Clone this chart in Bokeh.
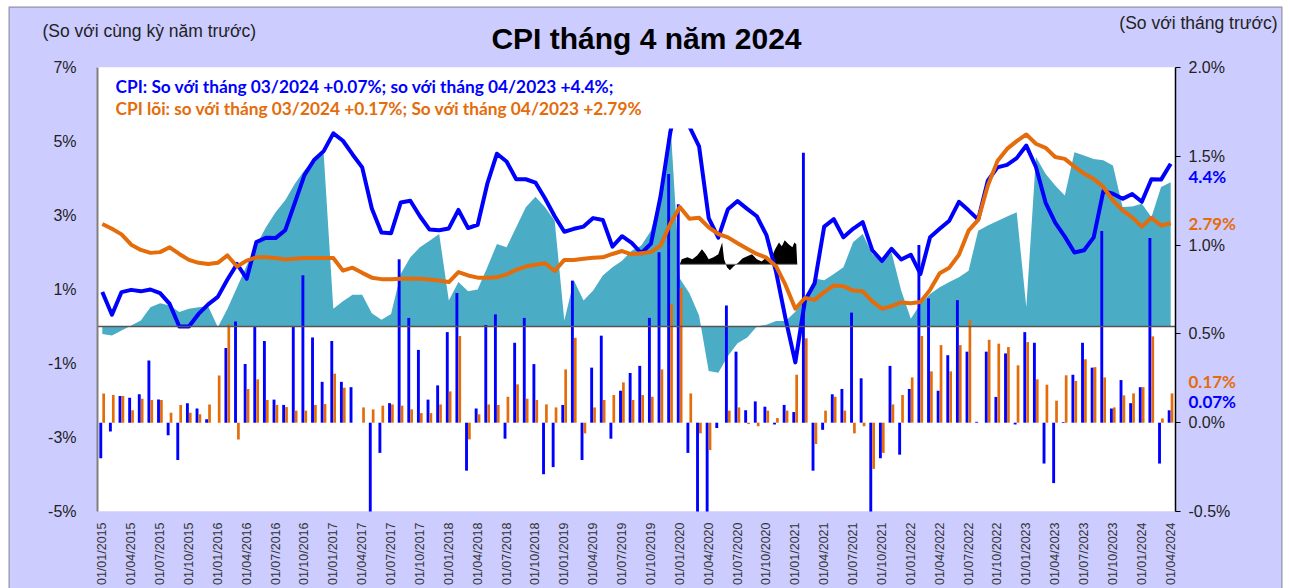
import math
from bokeh.plotting import figure
from bokeh.models import (Range1d, LinearAxis, FixedTicker, Label, BoxAnnotation,
                          ColumnDataSource)
from bokeh.transform import dodge
from bokeh.embed import file_html
from bokeh.resources import INLINE

# ---------------- data ----------------
tick_labels = ["01/01/2015", "01/04/2015", "01/07/2015", "01/10/2015",
               "01/01/2016", "01/04/2016", "01/07/2016", "01/10/2016",
               "01/01/2017", "01/04/2017", "01/07/2017", "01/10/2017",
               "01/01/2018", "01/04/2018", "01/07/2018", "01/10/2018",
               "01/01/2019", "01/04/2019", "01/07/2019", "01/10/2019",
               "01/01/2020", "01/04/2020", "01/07/2020", "01/10/2020",
               "01/01/2021", "01/04/2021", "01/07/2021", "01/10/2021",
               "01/01/2022", "01/04/2022", "01/07/2022", "01/10/2022",
               "01/01/2023", "01/04/2023", "01/07/2023", "01/10/2023",
               "01/01/2024", "01/04/2024"]

# CPI so với cùng kỳ (left axis, %)
cpi_yoy = [0.93, 0.32, 0.93, 0.99, 0.95, 1.00, 0.90, 0.61, 0.00, 0.00, 0.34, 0.60,
           0.80, 1.27, 1.69, 1.29, 2.28, 2.40, 2.39, 2.60, 3.34, 4.09, 4.50, 4.74,
           5.22, 5.02, 4.65, 4.30, 3.19, 2.54, 2.52, 3.35, 3.40, 2.98, 2.62, 2.60,
           2.65, 3.15, 2.66, 2.75, 3.86, 4.67, 4.46, 3.98, 3.98, 3.89, 3.46, 2.98,
           2.56, 2.64, 2.70, 2.93, 2.88, 2.16, 2.44, 2.26, 1.98, 2.24, 3.52, 5.23,
           6.43, 5.40, 4.87, 2.93, 2.40, 3.17, 3.39, 3.18, 2.98, 2.47, 1.48, 0.19,
           -0.97, 0.70, 1.16, 2.70, 2.90, 2.41, 2.64, 2.82, 2.06, 1.77, 2.10, 1.81,
           1.94, 1.42, 2.41, 2.64, 2.86, 3.37, 3.14, 2.89, 3.94, 4.30, 4.37, 4.55,
           4.89, 4.31, 3.35, 2.81, 2.43, 2.00, 2.06, 2.41, 3.66, 3.59, 3.45, 3.58,
           3.37, 3.98, 3.97, 4.40]

# CPI lõi so với cùng kỳ (left axis, %)
core_yoy = [2.77, 2.64, 2.49, 2.21, 2.07, 1.99, 2.01, 2.14, 1.96, 1.80, 1.72, 1.69,
            1.72, 1.92, 1.62, 1.78, 1.87, 1.87, 1.85, 1.81, 1.83, 1.85, 1.85, 1.85,
            1.85, 1.51, 1.59, 1.45, 1.32, 1.28, 1.28, 1.29, 1.29, 1.29, 1.27, 1.24,
            1.20, 1.47, 1.38, 1.32, 1.32, 1.33, 1.41, 1.53, 1.62, 1.67, 1.71, 1.50,
            1.80, 1.80, 1.83, 1.86, 1.87, 1.96, 2.04, 1.95, 1.98, 2.01, 2.19, 2.77,
            3.23, 2.91, 2.94, 2.68, 2.50, 2.41, 2.25, 2.10, 1.96, 1.86, 1.63, 1.11,
            0.48, 0.77, 0.72, 0.93, 1.11, 1.09, 0.97, 0.95, 0.68, 0.48, 0.55, 0.65,
            0.63, 0.66, 0.99, 1.44, 1.59, 1.94, 2.59, 2.88, 3.81, 4.47, 4.80, 5.01,
            5.19, 4.94, 4.83, 4.58, 4.53, 4.32, 4.13, 3.99, 3.77, 3.41, 3.14, 2.95,
            2.70, 2.94, 2.73, 2.79]

# teal area series (left axis, %)
area_vals = [-0.20, -0.24, -0.11, 0.03, 0.16, 0.52, 0.63, 0.57, 0.39, 0.48, 0.52, 0.55,
             -0.02, 0.48, 1.06, 1.65, 2.19, 2.68, 3.09, 3.41, 3.86, 4.22, 4.50, 4.67,
             0.48, 0.68, 0.86, 0.86, 0.36, 0.18, 0.34, 1.42, 1.87, 2.14, 2.32, 2.50,
             0.70, 1.20, 0.95, 1.00, 1.60, 2.23, 2.14, 2.68, 3.22, 3.51, 3.22, 2.86,
             0.16, 1.24, 0.70, 0.97, 1.38, 1.60, 1.78, 2.05, 2.19, 2.59, 3.59, 5.60,
             1.30, 0.90, 0.30, -1.20, -1.25, -0.80, -0.45, -0.30, 0.00, 0.05, 0.15, 0.15,
             0.40, 0.75, 1.30, 1.25, 1.42, 1.60, 2.28, 2.50, 1.96, 1.74, 2.00, 0.97,
             0.21, 0.61, 0.88, 1.06, 1.20, 1.33, 1.51, 2.59, 2.73, 2.85, 2.97, 3.09,
             0.52, 4.58, 4.13, 3.81, 3.54, 4.71, 4.62, 4.53, 4.49, 4.35, 3.23, 3.24,
             3.32, 2.95, 3.77, 3.90]

# CPI so với tháng trước (right axis, %)
cpi_mom = [-0.20, -0.05, 0.15, 0.14, 0.16, 0.35, 0.13, -0.07, -0.21, 0.11, 0.08, 0.02,
           0.00, 0.42, 0.57, 0.33, 0.54, 0.46, 0.13, 0.10, 0.54, 0.83, 0.48, 0.23,
           0.46, 0.23, 0.20, 0.00, -0.53, -0.17, 0.11, 0.92, 0.59, 0.41, 0.13, 0.21,
           0.51, 0.73, -0.27, 0.08, 0.55, 0.61, -0.09, 0.45, 0.59, 0.33, -0.29, -0.25,
           0.10, 0.80, -0.21, 0.31, 0.49, -0.09, 0.18, 0.28, 0.32, 0.59, 0.96, 1.40,
           1.23, -0.17, -0.72, -1.54, -0.03, 0.66, 0.40, 0.07, 0.12, 0.09, -0.01, 0.10,
           0.06, 1.52, -0.27, -0.04, 0.16, 0.19, 0.62, 0.25, -0.62, -0.20, 0.32, -0.18,
           0.19, 1.00, 0.70, 0.18, 0.38, 0.69, 0.40, 0.005, 0.40, 0.145, 0.39, -0.01,
           0.51, 0.45, -0.23, -0.34, 0.004, 0.27, 0.45, 0.31, 1.08, 0.08, 0.24, 0.11,
           0.20, 1.04, -0.23, 0.07]

# CPI lõi so với tháng trước (right axis, %)
core_mom = [0.165, 0.156, 0.15, 0.07, 0.135, 0.128, 0.128, 0.056, 0.10, 0.056, 0.047, 0.103,
            0.266, 0.555, -0.094, 0.19, 0.244, 0.128, 0.10, 0.088, 0.068, 0.068, 0.10, 0.105,
            0.276, 0.197, 0.00, 0.086, 0.075, 0.096, 0.103, 0.096, 0.075, 0.054, 0.054, 0.103,
            0.176, 0.488, -0.094, 0.047, 0.103, 0.10, 0.146, 0.216, 0.135, 0.128, 0.103, 0.086,
            0.30, 0.478, -0.06, 0.086, 0.128, 0.156, 0.227, 0.128, 0.156, 0.146, 0.30, 0.67,
            0.757, 0.165, -0.06, -0.154, 0.00, 0.068, 0.086, -0.008, -0.02, 0.068, 0.026, 0.068,
            0.27, 0.475, -0.12, 0.068, 0.146, 0.068, -0.06, -0.02, -0.26, -0.17, 0.103, 0.156,
            0.255, 0.488, 0.289, 0.437, 0.289, 0.437, 0.578, 0.00, 0.467, 0.445, 0.426, 0.323,
            0.454, 0.244, 0.214, 0.124, 0.267, 0.235, 0.357, 0.313, 0.255, 0.086, 0.154, 0.165,
            0.20, 0.486, 0.024, 0.165]

# small black inset (pasted sparkline) - x in month index, height in left-axis %
art_x = [60.0, 60.2, 60.8, 61.3, 61.8, 62.3, 62.7, 63.0, 63.5, 64.0, 64.4, 64.6, 64.9,
         65.2, 65.6, 66.1, 66.5, 67.0, 67.5, 68.0, 68.5, 68.9, 69.4, 69.9, 70.3, 70.6,
         70.9, 71.3, 71.7, 71.9, 72.1, 72.2]
art_h = [0.0, 0.14, 0.19, 0.14, 0.24, 0.41, 0.27, 0.14, 0.19, 0.27, 0.59, 0.14, -0.08,
         -0.16, -0.05, 0.05, 0.16, 0.22, 0.27, 0.14, 0.08, 0.16, 0.11, 0.41, 0.59, 0.49,
         0.65, 0.54, 0.46, 0.59, 0.54, 0.0]
art_base = 1.68

# ---------------- layout (pixel frame of the plot area: 97..1175 x 67..511) ----------------
W, H = 1290, 588
FX0, FX1, FY0, FY1 = 97, 1175, 67, 511
n = len(cpi_yoy)
YL = (-5, 7)
YR = (-0.5, 2.0)
sx = (FX1 - FX0) / n
syl = (FY1 - FY0) / (YL[1] - YL[0])
syr = (FY1 - FY0) / (YR[1] - YR[0])

def px_x(X):
    return -0.5 + (X - FX0) / sx
def px_yl(Y):
    return YL[1] - (Y - FY0) / syl
def px_yr(Y):
    return YR[1] - (Y - FY0) / syr

idx = list(range(n))
src = ColumnDataSource(dict(x=idx, cpi_yoy=cpi_yoy, core_yoy=core_yoy, area=area_vals,
                            cpi_mom=cpi_mom, core_mom=core_mom))

BG = "#CCCCFF"
BLUE = "#0000FF"
ORANGE = "#E46C0A"
TEAL = "#4BACC6"

p = figure(width=W, height=H, output_backend="svg", toolbar_location=None,
           x_range=Range1d(px_x(0), px_x(W)), y_range=Range1d(px_yl(H), px_yl(0)),
           x_axis_location=None, y_axis_location=None,
           min_border=0, min_border_left=0, min_border_right=0,
           min_border_top=0, min_border_bottom=0)
p.background_fill_color = "white"
p.border_fill_color = "white"
p.outline_line_color = None
p.grid.visible = False
p.extra_y_ranges = {"mom": Range1d(px_yr(H), px_yr(0))}

# chart background (lavender with dark frame) and white plot area
p.add_layout(BoxAnnotation(left=px_x(8.5), right=px_x(1281.5), top=px_yl(6.5), bottom=px_yl(700),
                           fill_color=BG, fill_alpha=1, line_color="#111111", line_width=1.5,
                           level="underlay"))
p.add_layout(BoxAnnotation(left=-0.5, right=n - 0.5, top=YL[1], bottom=YL[0],
                           fill_color="white", fill_alpha=1, line_alpha=0, level="underlay"))

# teal area
p.varea(x="x", y1=0, y2="area", source=src, fill_color=TEAL)

# bars (month-on-month, right axis)
p.vbar(x=dodge("x", -0.16, range=p.x_range), top="cpi_mom", width=0.3, source=src,
       fill_color=BLUE, line_color=None, y_range_name="mom")
p.vbar(x=dodge("x", 0.14, range=p.x_range), top="core_mom", width=0.28, source=src,
       fill_color=ORANGE, line_color=None, y_range_name="mom")

# black inset
p.varea(x=art_x, y1=[art_base] * len(art_x), y2=[art_base + h for h in art_h],
        fill_color="black")
p.line(x=[art_x[0], art_x[-1]], y=[art_base, art_base], line_color="#777777", line_width=1)

# yoy lines
p.line(x="x", y="cpi_yoy", source=src, line_color=BLUE, line_width=4, line_join="round")
p.line(x="x", y="core_yoy", source=src, line_color=ORANGE, line_width=4, line_join="round")

# white text box covering top of plot area
p.add_layout(BoxAnnotation(left=-0.5, right=n - 0.5, bottom=px_yl(128), top=YL[1],
                           fill_color="white", fill_alpha=1.0, line_alpha=0))
# mask below the plot area (bars beyond -0.5%)
p.add_layout(BoxAnnotation(left=px_x(9.5), right=px_x(1280.5), top=YL[0], bottom=px_yl(700),
                           fill_color=BG, fill_alpha=1.0, line_alpha=0))

# ---------------- axes ----------------
# category axis line at 0
zero_ax = LinearAxis(fixed_location=0, bounds=(-0.5, n - 0.5), ticker=FixedTicker(ticks=[]))
zero_ax.axis_line_color = "#555555"
zero_ax.axis_line_width = 1.5
zero_ax.major_tick_line_color = None
zero_ax.minor_tick_line_color = None
p.add_layout(zero_ax, "below")

# date labels along the bottom
xa = LinearAxis(fixed_location=YL[0], bounds=(-0.5, n - 0.5),
                ticker=FixedTicker(ticks=list(range(0, n, 3))), level="overlay")
xa.major_label_overrides = {t: lab for t, lab in zip(range(0, n, 3), tick_labels)}
xa.major_label_orientation = math.pi / 2
xa.axis_line_color = None
xa.major_tick_line_color = None
xa.minor_tick_line_color = None
xa.major_label_standoff = 5
xa.major_label_text_font = "Liberation Sans"
xa.major_label_text_font_size = "12.5px"
xa.major_label_text_color = "#333333"
p.add_layout(xa, "below")

# left axis
lticks = [-5, -3, -1, 1, 3, 5, 7]
ya = LinearAxis(fixed_location=-0.5, bounds=YL, ticker=FixedTicker(ticks=lticks), level="overlay")
ya.major_label_overrides = {v: f"{v}%" for v in lticks}
ya.axis_line_color = "#808080"
ya.axis_line_width = 2
ya.major_tick_line_color = None
ya.minor_tick_line_color = None
ya.major_label_standoff = 15
ya.major_label_text_font = "Liberation Sans"
ya.major_label_text_font_size = "16px"
ya.major_label_text_color = "#222222"
p.add_layout(ya, "left")

# right axis
rticks = [-0.5, 0.0, 0.5, 1.0, 1.5, 2.0]
ra = LinearAxis(y_range_name="mom", fixed_location=n - 0.5, bounds=YR,
                ticker=FixedTicker(ticks=rticks), level="overlay")
ra.major_label_overrides = {v: f"{v:.1f}%" for v in rticks}
ra.axis_line_color = "black"
ra.axis_line_width = 1.5
ra.major_tick_line_color = "black"
ra.major_tick_out = 5
ra.major_tick_in = 0
ra.minor_tick_line_color = None
ra.major_label_standoff = 8
ra.major_label_text_font = "Liberation Sans"
ra.major_label_text_font_size = "16px"
ra.major_label_text_color = "#222222"
p.add_layout(ra, "right")

# ---------------- texts ----------------
def add_label(x, y, text, **kw):
    opts = dict(text_font="Liberation Sans", text_font_size="17.5px", text_color="#222222",
                text_baseline="middle", text_align="left")
    opts.update(kw)
    p.add_layout(Label(x=x, y=y, text=text, **opts))

add_label(px_x(646), px_yl(38), "CPI tháng 4 năm 2024", text_align="center",
          text_font_size="30px", text_font_style="bold", text_color="black")
add_label(px_x(42), px_yl(30), "(So với cùng kỳ năm trước)")
add_label(px_x(1277), px_yl(22), "(So với tháng trước)", text_align="right")

add_label(px_x(115), px_yl(86),
          "CPI: So với tháng 03/2024 +0.07%; so với tháng 04/2023 +4.4%;",
          text_font="Lato", text_font_size="17.3px", text_font_style="bold", text_color=BLUE)
add_label(px_x(115), px_yl(108),
          "CPI lõi: so với tháng 03/2024 +0.17%; So với tháng 04/2023 +2.79%",
          text_font="Lato", text_font_size="17.3px", text_font_style="bold", text_color=ORANGE)

add_label(px_x(1188), px_yl(176), f"{cpi_yoy[-1]}%", text_font="Lato",
          text_font_size="17px", text_font_style="bold", text_color=BLUE)
add_label(px_x(1188), px_yl(223), f"{core_yoy[-1]}%", text_font="Lato",
          text_font_size="17px", text_font_style="bold", text_color=ORANGE)
p.add_layout(Label(x=px_x(1188), y=px_yr(381), y_range_name="mom", text=f"{core_mom[-1]:.2f}%",
                   text_font="Lato", text_font_size="17px", text_font_style="bold",
                   text_color=ORANGE, text_baseline="middle"))
p.add_layout(Label(x=px_x(1188), y=px_yr(401), y_range_name="mom", text=f"{cpi_mom[-1]:.2f}%",
                   text_font="Lato", text_font_size="17px", text_font_style="bold",
                   text_color=BLUE, text_baseline="middle"))

open("out.html", "w").write(file_html(p, INLINE))
